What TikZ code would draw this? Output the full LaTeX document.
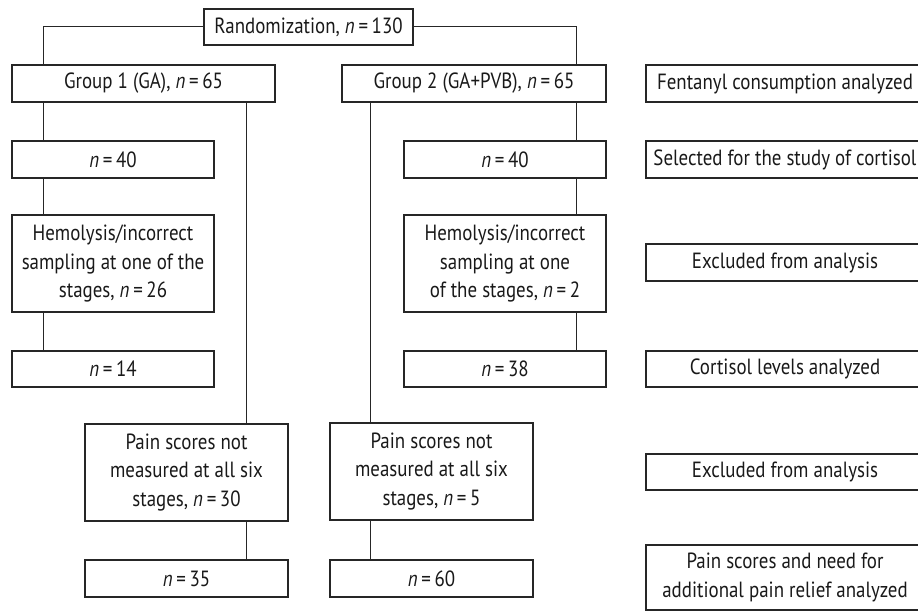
\documentclass[tikz,border=0pt]{standalone}
\usepackage{fontspec}
\setmainfont{PT Sans}[FakeStretch=0.86]
\begin{document}
\begin{tikzpicture}[x=1pt,y=-1pt,
  bx/.style={draw=black!85,line width=1.1pt,inner sep=0pt,align=center,text=black!90,
    font=\fontsize{22}{28.5}\selectfont},
  ln/.style={draw=black!85,line width=1pt}]
\useasboundingbox (0,0) rectangle (918,612);
\clip (0,0) rectangle (918,612);
% nodes (center positions)
\node[bx,minimum width=209pt,minimum height=36pt] (rand) at (308.5,27) {Randomization, \textit{n}\,=\,130};
\node[bx,minimum width=263pt,minimum height=37pt] (g1) at (143.5,83.5) {Group 1 (GA), \textit{n}\,=\,65};
\node[bx,minimum width=264pt,minimum height=37pt] (g2) at (474,83.5) {Group 2 (GA+PVB), \textit{n}\,=\,65};
\node[bx,minimum width=278pt,minimum height=37pt] (fent) at (785,83.5) {Fentanyl consumption analyzed};
\node[bx,minimum width=202pt,minimum height=37pt] (n40a) at (113,159.5) {\textit{n}\,=\,40};
\node[bx,minimum width=202pt,minimum height=37pt] (n40b) at (505,159.5) {\textit{n}\,=\,40};
\node[bx,minimum width=278pt,minimum height=37pt] (sel) at (785,159.5) {Selected for the study of cortisol};
\node[bx,minimum width=202pt,minimum height=97pt] (hemA) at (113,263.5) {Hemolysis/incorrect\\sampling at one of the\\stages, \textit{n}\,=\,26};
\node[bx,minimum width=202pt,minimum height=97pt] (hemB) at (505,263.5) {Hemolysis/incorrect\\sampling at one\\of the stages, \textit{n}\,=\,2};
\node[bx,minimum width=278pt,minimum height=37pt] (exA) at (785,262.5) {Excluded from analysis};
\node[bx,minimum width=202pt,minimum height=36pt] (n14) at (113,369) {\textit{n}\,=\,14};
\node[bx,minimum width=202pt,minimum height=36pt] (n38) at (505,369) {\textit{n}\,=\,38};
\node[bx,minimum width=278pt,minimum height=36pt] (cort) at (785,369) {Cortisol levels analyzed};
\node[bx,minimum width=203pt,minimum height=97pt] (painA) at (186.5,472.5) {Pain scores not\\measured at all six\\stages, \textit{n}\,=\,30};
\node[bx,minimum width=203pt,minimum height=97pt] (painB) at (431.5,471.5) {Pain scores not\\measured at all six\\stages, \textit{n}\,=\,5};
\node[bx,minimum width=278pt,minimum height=36pt] (exB) at (785,472) {Excluded from analysis};
\node[bx,minimum width=203pt,minimum height=37pt] (n35) at (186.5,578.5) {\textit{n}\,=\,35};
\node[bx,minimum width=203pt,minimum height=37pt] (n60) at (431.5,578.5) {\textit{n}\,=\,60};
\node[bx,minimum width=278pt,minimum height=65pt] (rel) at (785,577.5) {Pain scores and need for\\additional pain relief analyzed};
% connector x positions
\coordinate (xa) at (43,0);
\coordinate (xb) at (246,0);
\coordinate (xc) at (370,0);
\coordinate (xd) at (576,0);
% connectors
\draw[ln] (rand.west) -| (g1.north -| xa);
\draw[ln] (rand.east) -| (g2.north -| xd);
\draw[ln] (g1.south -| xa) -- (n40a.north -| xa);
\draw[ln] (n40a.south -| xa) -- (hemA.north -| xa);
\draw[ln] (hemA.south -| xa) -- (n14.north -| xa);
\draw[ln] (g1.south -| xb) -- (painA.north -| xb);
\draw[ln] (painA.south -| xb) -- (n35.north -| xb);
\draw[ln] (g2.south -| xc) -- (painB.north -| xc);
\draw[ln] (painB.south -| xc) -- (n60.north -| xc);
\draw[ln] (g2.south -| xd) -- (n40b.north -| xd);
\draw[ln] (n40b.south -| xd) -- (hemB.north -| xd);
\draw[ln] (hemB.south -| xd) -- (n38.north -| xd);
\end{tikzpicture}
\end{document}
